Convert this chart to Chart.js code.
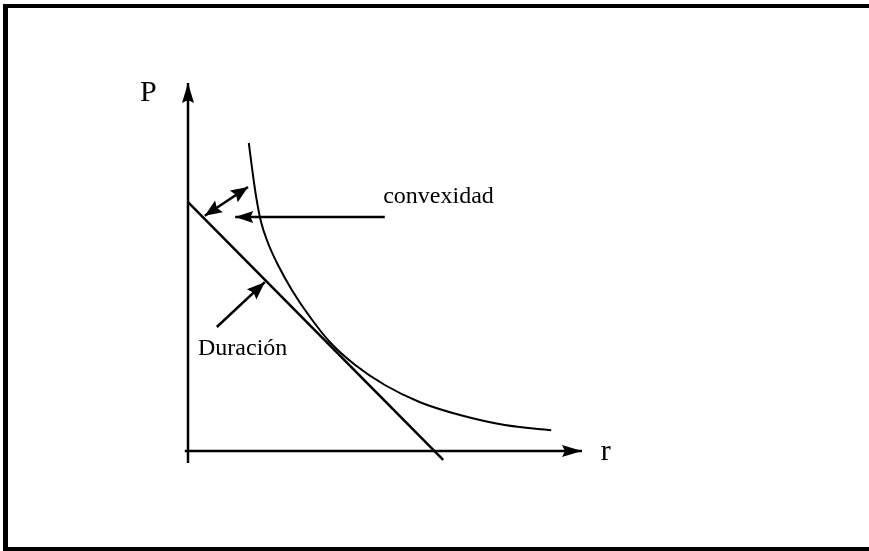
<!doctype html>
<html>

<head>
    <meta charset="utf-8">
    <title>Convexidad y Duración</title>
    <script src="https://cdn.jsdelivr.net/npm/chart.js"></script>
    <style>
        body { margin: 0; background: #fff; }
        #grafico { display: block; }
    </style>
</head>

<body>
    <canvas id="grafico" width="869" height="551"></canvas>

    <script>
        // curva precio-rendimiento (convexa)
        var curvaX = [1.52, 1.6, 1.7, 1.82, 2.0, 2.25, 2.6, 3.05, 3.55, 4.18, 4.92, 5.8, 6.8, 7.92, 9.08];
        var curvaY = [7.7, 7.08, 6.38, 5.75, 5.2, 4.65, 4.02, 3.35, 2.72, 2.15, 1.65, 1.22, 0.9, 0.65, 0.52];

        // recta tangente (duración)
        var tangenteX = [0, 6.38];
        var tangenteY = [6.22, -0.22];

        // ejes
        var ejeYX = [0, 0];
        var ejeYY = [-0.3, 9.2];
        var ejeXX = [-0.08, 9.85];
        var ejeXY = [0, 0];

        // flechas de las etiquetas
        var flechaDobleX = [0.42, 1.5];
        var flechaDobleY = [5.88, 6.6];
        var flechaConvX = [4.92, 1.18];
        var flechaConvY = [5.85, 5.85];
        var flechaDurX = [0.72, 1.92];
        var flechaDurY = [3.1, 4.22];

        // textos
        var etiquetas = ['P', 'r', 'convexidad', 'Duración'];
        var etiquetasX = [-1.2, 10.32, 4.88, 0.25];
        var etiquetasY = [8.75, -0.22, 6.2, 2.4];
        var etiquetasTam = [30, 30, 24, 24];

        function puntos(xs, ys) {
            return xs.map(function (x, i) { return { x: x, y: ys[i] }; });
        }

        function serie(xs, ys, ancho, flecha, cabeza) {
            return {
                data: puntos(xs, ys),
                showLine: true,
                borderColor: '#000',
                borderWidth: ancho,
                pointRadius: 0,
                tension: 0,
                clip: false,
                flecha: flecha,
                cabeza: cabeza
            };
        }

        var marco = {
            id: 'marco',
            beforeDraw: function (chart) {
                var ctx = chart.ctx;
                ctx.save();
                ctx.fillStyle = '#fff';
                ctx.fillRect(0, 0, chart.width, chart.height);
                ctx.fillStyle = '#000';
                ctx.fillRect(3, 4, 5, 544);
                ctx.fillRect(3, 4, 866, 4);
                ctx.fillRect(3, 547, 866, 4);
                ctx.restore();
            }
        };

        function punta(ctx, desde, hasta, largo, medio) {
            var ang = Math.atan2(hasta.y - desde.y, hasta.x - desde.x);
            ctx.save();
            ctx.translate(hasta.x, hasta.y);
            ctx.rotate(ang);
            ctx.beginPath();
            ctx.moveTo(0, 0);
            ctx.lineTo(-largo, -medio);
            ctx.lineTo(-largo * 0.85, 0);
            ctx.lineTo(-largo, medio);
            ctx.closePath();
            ctx.fill();
            ctx.restore();
        }

        var flechas = {
            id: 'flechas',
            afterDatasetsDraw: function (chart) {
                var ctx = chart.ctx;
                ctx.fillStyle = '#000';
                chart.data.datasets.forEach(function (ds, i) {
                    if (!ds.flecha) return;
                    var p = chart.getDatasetMeta(i).data;
                    var a = { x: p[0].x, y: p[0].y };
                    var b = { x: p[p.length - 1].x, y: p[p.length - 1].y };
                    punta(ctx, a, b, ds.cabeza[0], ds.cabeza[1]);
                    if (ds.flecha === 'ambas') punta(ctx, b, a, ds.cabeza[0], ds.cabeza[1]);
                });

                var sx = chart.scales.x, sy = chart.scales.y;
                ctx.save();
                ctx.fillStyle = '#000';
                ctx.textBaseline = 'alphabetic';
                ctx.textAlign = 'left';
                etiquetas.forEach(function (t, i) {
                    ctx.font = etiquetasTam[i] + 'px "Liberation Serif", "DejaVu Serif", serif';
                    ctx.fillText(t, sx.getPixelForValue(etiquetasX[i]), sy.getPixelForValue(etiquetasY[i]));
                });
                ctx.restore();
            }
        };

        var grafico = new Chart(document.getElementById('grafico').getContext('2d'), {
            type: 'scatter',
            data: {
                datasets: [
                    serie(ejeYX, ejeYY, 2.5, 'fin', [20, 6]),
                    serie(ejeXX, ejeXY, 2.5, 'fin', [20, 6]),
                    serie(tangenteX, tangenteY, 2.5, null),
                    Object.assign(serie(curvaX, curvaY, 2, null), { cubicInterpolationMode: 'monotone' }),
                    serie(flechaDobleX, flechaDobleY, 2.5, 'ambas', [17, 7]),
                    serie(flechaConvX, flechaConvY, 2.5, 'fin', [18, 6]),
                    serie(flechaDurX, flechaDurY, 2.5, 'fin', [18, 7])
                ]
            },
            options: {
                responsive: false,
                animation: false,
                layout: {
                    padding: { left: 188, right: 281, top: 51, bottom: 100 }
                },
                plugins: {
                    legend: { display: false },
                    tooltip: { enabled: false }
                },
                scales: {
                    x: { type: 'linear', min: 0, max: 10, display: false },
                    y: { type: 'linear', min: 0, max: 10, display: false }
                }
            },
            plugins: [marco, flechas]
        });
    </script>
</body>

</html>
